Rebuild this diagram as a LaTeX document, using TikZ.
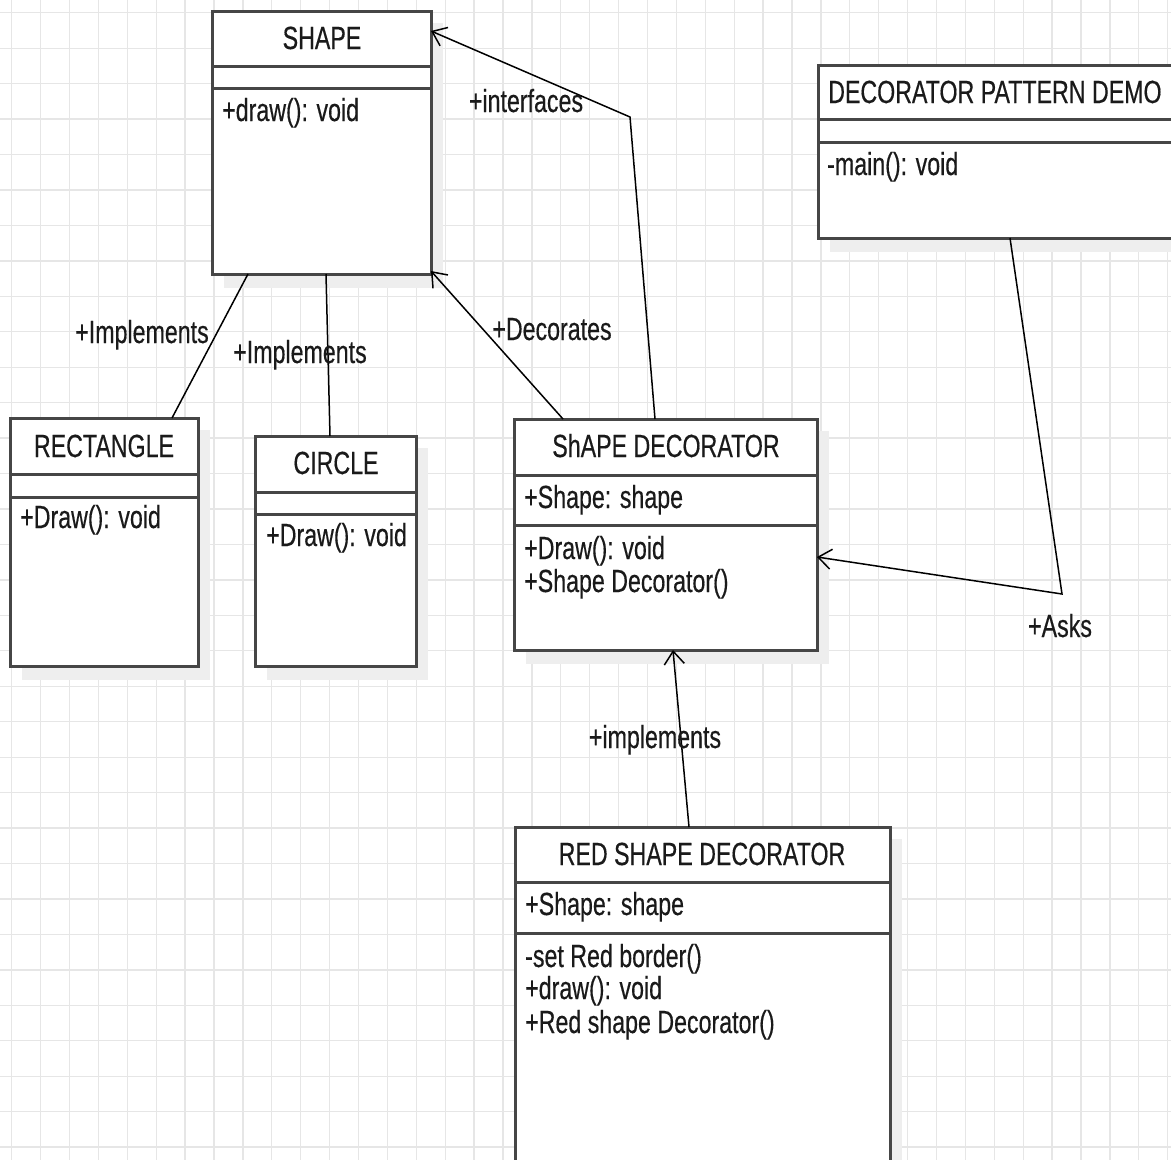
\documentclass[tikz,border=0pt]{standalone}
\usepackage{fontspec}
\setmainfont{Liberation Sans}[FakeStretch=0.725,FakeBold=0.4]
\usetikzlibrary{arrows.meta,calc}
\definecolor{gridc}{HTML}{E6E6E6}
\definecolor{boxc}{HTML}{464646}
\definecolor{shadowc}{HTML}{EEEEEE}
\definecolor{txtc}{HTML}{1A1A1A}
\newcommand{\ClassBox}[7]{%
  \fill[shadowc] (#2+12,#3+12) rectangle ++(#4,#5+2);
  \node[cls,minimum width=#4pt,minimum height=#5pt] (#1) at (#2,#3) {};
  \draw[divider] (#2,#6) -- ++(#4,0);
  \draw[divider] (#2,#7) -- ++(#4,0);
}
\begin{document}
\begin{tikzpicture}[x=1pt,y=-1pt,
  cls/.style={draw=boxc,line width=3pt,fill=white,rectangle,anchor=north west,inner sep=0pt,outer sep=0pt},
  divider/.style={draw=boxc,line width=3pt},
  txt/.style={text=txtc,font=\fontsize{32}{34}\selectfont,inner sep=0pt},
  ttl/.style={txt,anchor=base},
  mem/.style={txt,anchor=base west},
  lbl/.style={txt,anchor=base},
  conn/.style={draw=black,line width=1.5pt},
  arr/.style={conn,-{Straight Barb[length=13pt,width=20pt]}}
]
\useasboundingbox (0,0) rectangle (1171,1160);
\clip (0,0) rectangle (1171,1160);
\fill[white] (0,0) rectangle (1171,1160);
\foreach \i in {0,...,40} \draw[gridc,line width=1.3pt] (11.7+28.9*\i,0) -- (11.7+28.9*\i,1160);
\foreach \j in {0,...,33} \draw[gridc,line width=1.3pt] (0,12.7+35.45*\j) -- (1171,12.7+35.45*\j);

% boxes
\ClassBox{shape}{212}{11}{219}{263}{66}{88}
\ClassBox{rect}{10}{418}{188}{248}{474}{497}
\ClassBox{circ}{255}{436}{161}{230}{492}{514}
\ClassBox{sdec}{514}{419}{303}{231}{475}{525}
\ClassBox{demo}{818}{65}{400}{173}{119}{142}
\ClassBox{red}{515}{827}{375}{400}{882}{933}

% texts
\node[ttl] (shape-t) at (322,49) {SHAPE};
\node[mem] (shape-m) at (222,121) {+draw(): void};
\node[ttl] (rect-t) at (104,457) {RECTANGLE};
\node[mem] (rect-m) at (20,528) {+Draw(): void};
\node[ttl] (circ-t) at (336,474) {CIRCLE};
\node[mem] (circ-m) at (266,546) {+Draw(): void};
\node[ttl] (sdec-t) at (666,457) {ShAPE DECORATOR};
\node[mem] (sdec-a) at (524,508) {+Shape: shape};
\node[mem] (sdec-m1) at (524,559) {+Draw(): void};
\node[mem] (sdec-m2) at (524,592) {+Shape Decorator()};
\node[mem] (demo-t) at (828,103) {DECORATOR PATTERN DEMO};
\node[mem] (demo-m) at (827,175) {-main(): void};
\node[ttl] (red-t) at (702,865) {RED SHAPE DECORATOR};
\node[mem] (red-a) at (525,915) {+Shape: shape};
\node[mem] (red-m1) at (525,967) {-set Red border()};
\node[mem] (red-m2) at (525,999) {+draw(): void};
\node[mem] (red-m3) at (525,1033) {+Red shape Decorator()};

% connectors
\draw[conn] ([xshift=162pt]rect.north west) -- ([xshift=36pt]shape.south west);
\draw[conn] ([xshift=75pt]circ.north west) -- ([xshift=114pt]shape.south west);
\draw[arr] ([xshift=49pt]sdec.north west) -- ([yshift=3pt]shape.south east);
\coordinate (bendA) at (630,117);
\draw[arr] ([xshift=141pt]sdec.north west) -- (bendA) -- ([yshift=-20pt]shape.north east);
\coordinate (bendB) at (1062,594);
\draw[arr] ([xshift=192pt]demo.south west) -- (bendB) -- ([yshift=-138pt]sdec.north east);
\draw[arr] ([xshift=174pt]red.north west) -- ([xshift=159pt]sdec.south west);

% labels
\node[lbl] (lA) at (142,343) {+Implements};
\node[lbl] (lB) at (300,363) {+Implements};
\node[lbl] (lC) at (552,340) {+Decorates};
\node[lbl] (lD) at (526,112) {+interfaces};
\node[lbl] (lE) at (1060,637) {+Asks};
\node[lbl] (lF) at (655,748) {+implements};
\end{tikzpicture}
\end{document}
